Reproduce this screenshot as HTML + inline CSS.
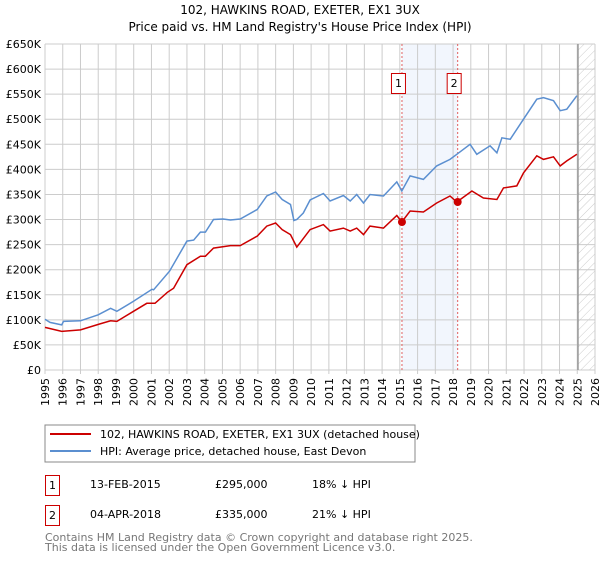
<!DOCTYPE html>
<html><head><meta charset="utf-8"><style>
body{margin:0;background:#fff;font-family:"DejaVu Sans","Liberation Sans",sans-serif;}
svg text{font-family:"DejaVu Sans","Liberation Sans",sans-serif;}
</style></head><body>
<svg id="chart" width="600" height="560" xmlns="http://www.w3.org/2000/svg">
<defs><pattern id="hatch" width="6" height="6" patternUnits="userSpaceOnUse" patternTransform="rotate(45)"><line x1="0" y1="0" x2="0" y2="6" stroke="#ccc" stroke-width="1"/></pattern></defs>
<text x="300" y="14" text-anchor="middle" font-size="12">102, HAWKINS ROAD, EXETER, EX1 3UX</text>
<text x="300" y="31" text-anchor="middle" font-size="12">Price paid vs. HM Land Registry's House Price Index (HPI)</text>
<g id="grid"></g><g id="marks"></g><g id="axes"></g>
<rect x="45" y="425" width="370" height="37" fill="#fff" stroke="#888"/>
<line x1="50" y1="434" x2="91" y2="434" stroke="#cc0000" stroke-width="2"/>
<text x="100" y="438" font-size="11">102, HAWKINS ROAD, EXETER, EX1 3UX (detached house)</text>
<line x1="50" y1="451" x2="91" y2="451" stroke="#5b8fd0" stroke-width="2"/>
<text x="100" y="455" font-size="11">HPI: Average price, detached house, East Devon</text>
<g font-size="11">
<rect x="45.5" y="475.5" width="14" height="20" fill="#fff" stroke="#cc0000"/>
<text x="52.5" y="489" text-anchor="middle">1</text>
<text x="90" y="488">13-FEB-2015</text>
<text x="215" y="488">£295,000</text>
<text x="312" y="488">18% ↓ HPI</text>
<rect x="45.5" y="505.5" width="14" height="20" fill="#fff" stroke="#cc0000"/>
<text x="52.5" y="519" text-anchor="middle">2</text>
<text x="90" y="518">04-APR-2018</text>
<text x="215" y="518">£335,000</text>
<text x="312" y="518">21% ↓ HPI</text>
</g>
<text x="45" y="541" font-size="11" fill="#777">Contains HM Land Registry data © Crown copyright and database right 2025.</text>
<text x="45" y="551" font-size="11" fill="#777">This data is licensed under the Open Government Licence v3.0.</text>
</svg>
<script>
const yTicks=[0,50,100,150,200,250,300,350,400,450,500,550,600,650];
const yTickLabels=["£0","£50K","£100K","£150K","£200K","£250K","£300K","£350K","£400K","£450K","£500K","£550K","£600K","£650K"];
const xYears=[1995,1996,1997,1998,1999,2000,2001,2002,2003,2004,2005,2006,2007,2008,2009,2010,2011,2012,2013,2014,2015,2016,2017,2018,2019,2020,2021,2022,2023,2024,2025,2026];
const hpiYears=[1995.0,1995.28,1995.94,1996.04,1997.0,1998.0,1998.7,1999.05,1999.99,2001.03,2001.12,2002.02,2003.0,2003.38,2003.76,2004.04,2004.5,2005.04,2005.45,2006.0,2006.96,2007.5,2008.0,2008.37,2008.84,2009.03,2009.19,2009.56,2009.94,2010.69,2011.07,2011.82,2012.2,2012.57,2012.95,2013.32,2014.08,2014.83,2015.11,2015.58,2016.33,2017.08,2017.83,2018.21,2018.96,2019.34,2020.09,2020.47,2020.75,2021.22,2021.97,2022.72,2023.1,2023.66,2024.04,2024.41,2024.98];
const hpiValues=[101,95,90,97,98,110,123,117,137,161,160,197,257,259,275,275,300,301,299,301,320,347,355,340,330,298,300,313,339,352,337,348,337,350,333,350,347,375,357,387,380,407,420,430,450,430,447,433,463,460,500,540,543,537,517,520,547];
const ppYears=[1995.0,1995.94,1997.0,1998.1,1998.7,1999.05,1999.99,2000.74,2001.2,2001.9,2002.25,2003.0,2003.76,2004.04,2004.5,2005.45,2006.0,2006.96,2007.5,2008.0,2008.37,2008.84,2009.19,2009.94,2010.69,2011.07,2011.82,2012.2,2012.57,2012.95,2013.32,2014.08,2014.83,2015.11,2015.58,2016.33,2017.08,2017.83,2018.21,2019.06,2019.71,2020.47,2020.84,2021.59,2021.97,2022.72,2023.1,2023.66,2024.04,2024.41,2024.98];
const ppValues=[85,77,80,92,98,97,117,133,133,155,163,210,227,227,243,248,248,267,287,293,280,270,245,280,290,277,283,277,283,270,287,283,308,295,317,315,333,347,335,357,343,340,363,367,393,427,420,425,407,417,430];
const saleYears=[2015.12,2018.26];
const saleValues=[295,335];
const saleLabels=["1","2"];
const NS="http://www.w3.org/2000/svg";
const L=45,R=595,T=44,B=370;
const x=yr=>L+(yr-1995)*(R-L)/31;
const y=v=>B-v*(B-T)/650;
function mk(tag,attrs,parent){const e=document.createElementNS(NS,tag);for(const k in attrs)e.setAttribute(k,attrs[k]);parent.appendChild(e);return e;}
const grid=document.getElementById('grid'),marks=document.getElementById('marks'),axes=document.getElementById('axes');
mk('rect',{x:L,y:T,width:R-L,height:B-T,fill:'#fff'},grid);
const shade=mk('rect',{x:x(saleYears[0]),y:T,width:x(saleYears[1])-x(saleYears[0]),height:B-T,fill:'#f2f6fd'},grid);


const hatch=mk('rect',{x:x(2025.04),y:T,width:R-x(2025.04),height:B-T,fill:'url(#hatch)'},grid);


yTicks.forEach((v,i)=>{
 const ln=mk('line',{x1:L,x2:R,y1:y(v),y2:y(v),stroke:'#ccc'},grid);
 
 
 const t=mk('text',{x:L-4,y:y(v)+4,'text-anchor':'end','font-size':'11'},axes);
 t.textContent=yTickLabels[i];
 
 
});
xYears.forEach(yr=>{
 const ln=mk('line',{x1:x(yr),x2:x(yr),y1:T,y2:B+4,stroke:'#ccc'},grid);
 
 
 const t=mk('text',{transform:`translate(${x(yr)+4},${B+8}) rotate(-90)`,'text-anchor':'end','font-size':'11'},axes);
 t.textContent=yr;
 
 
});
const vl=mk('line',{x1:x(2025.04),x2:x(2025.04),y1:T,y2:B,stroke:'#999','stroke-width':1.5},grid);


saleYears.forEach((yr,i)=>{
 const d=mk('line',{x1:x(yr),x2:x(yr),y1:T,y2:B,stroke:'#e06060','stroke-dasharray':'2,2'},grid);
 
 
});
const pts=(xs,vs)=>xs.map((yr,i)=>x(yr).toFixed(1)+','+y(vs[i]).toFixed(1)).join(' ');
const hpi=mk('polyline',{points:pts(hpiYears,hpiValues),fill:'none',stroke:'#5b8fd0','stroke-width':1.5},marks);


const pp=mk('polyline',{points:pts(ppYears,ppValues),fill:'none',stroke:'#cc0000','stroke-width':1.5},marks);


saleYears.forEach((yr,i)=>{
 const c=mk('circle',{cx:x(yr),cy:y(saleValues[i]),r:4,fill:'#cc0000'},marks);
 
 
 const bx=mk('rect',{x:x(yr)-10.5,y:73.5,width:14,height:20,fill:'#fff',stroke:'#cc0000'},marks);
 
 
 const t=mk('text',{x:x(yr)-3.5,y:87,'text-anchor':'middle','font-size':'11'},marks);
 t.textContent=saleLabels[i];
 
 
});
</script>
</body></html>
